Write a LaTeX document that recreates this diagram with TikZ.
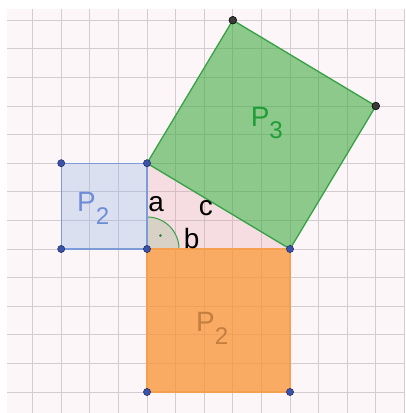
\documentclass[tikz,border=0pt]{standalone}
\usepackage{fontspec}
\setmainfont{Liberation Sans}
\definecolor{bgpink}{HTML}{FDF6F8}
\definecolor{gridc}{HTML}{D3CDD1}
\definecolor{bluefill}{HTML}{8FB0E4}
\definecolor{blueedge}{HTML}{7B9BD9}
\definecolor{bluetext}{HTML}{6E8DD6}
\definecolor{greenfill}{HTML}{41AB42}
\definecolor{greenedge}{HTML}{37A146}
\definecolor{greentext}{HTML}{1F9E38}
\definecolor{orangefill}{HTML}{F89333}
\definecolor{orangeedge}{HTML}{F5A04E}
\definecolor{orangetext}{HTML}{C47F3E}
\definecolor{trifillc}{HTML}{E196A0}
\definecolor{sectorc}{HTML}{D8D1C6}
\definecolor{ptblue}{HTML}{3A52A8}
\definecolor{ptblueedge}{HTML}{1C2A62}
\definecolor{ptdark}{HTML}{3A3A3A}
\begin{document}
\begin{tikzpicture}[x=1cm,y=1cm,
  gridline/.style={draw=gridc,line width=0.9pt},
  bluesq/.style={fill=bluefill,fill opacity=0.3,draw=blueedge,draw opacity=1,line width=1.3pt,line join=round},
  orangesq/.style={fill=orangefill,fill opacity=0.75,draw=orangeedge,draw opacity=1,line width=1.3pt,line join=round},
  greensq/.style={fill=greenfill,fill opacity=0.6,draw=greenedge,draw opacity=1,line width=1.3pt,line join=round},
  trifill/.style={fill=trifillc,fill opacity=0.25},
  ptb/.style={circle,fill=ptblue,draw=ptblueedge,line width=0.5pt,inner sep=0pt,minimum size=0.25cm},
  ptd/.style={circle,fill=ptdark,draw=black,line width=0.5pt,inner sep=0pt,minimum size=0.27cm},
  biglabel/.style={inner sep=0pt,font=\fontsize{27.8}{30}\selectfont},
  sublabel/.style={font=\fontsize{24}{26}\selectfont}
]
\useasboundingbox (-5.140,-5.734) rectangle (9.021,8.706);
\fill[white] (-5.140,-5.734) rectangle (9.021,8.706);
\fill[bgpink] (-4.895,-5.734) rectangle (9.021,8.392);
\foreach \x in {-4,...,9} \draw[gridline] (\x,-5.734) -- (\x,8.392);
\foreach \y in {-5,...,8} \draw[gridline] (-4.895,\y) -- (9.021,\y);

\coordinate (A) at (0,0);
\coordinate (B) at (0,3);
\coordinate (C) at (5,0);
\coordinate (Q1) at (-3,0);
\coordinate (Q2) at (-3,3);
\coordinate (O1) at (5,-5);
\coordinate (O2) at (0,-5);
\coordinate (G1) at (8,5);
\coordinate (G2) at (3,8);

\fill[trifill] (A) -- (C) -- (B) -- cycle;
\filldraw[bluesq] (Q1) -- (A) -- (B) -- (Q2) -- cycle;
\filldraw[greensq] (B) -- (C) -- (G1) -- (G2) -- cycle;
\filldraw[orangesq] (A) -- (C) -- (O1) -- (O2) -- cycle;

\fill[sectorc] (A) -- (1.12,0) arc (0:90:1.12) -- cycle;
\draw[greenedge,line width=1pt] (1.12,0) arc (0:90:1.12);
\fill[greenedge!80!black] (0.47,0.47) circle (0.05);
\draw[blueedge,line width=1.3pt] (A) -- (B);
\draw[orangeedge,line width=1.3pt] (A) -- (C);

\node[biglabel,anchor=base west,text=bluetext] (lblue) at (-2.448,1.304) {P\raisebox{-12.8pt}{\fontsize{24}{26}\selectfont 2}};
\node[biglabel,anchor=base west,text=greentext] (lgreen) at (3.62,4.27) {P\raisebox{-12pt}{\fontsize{24}{26}\selectfont 3}};
\node[biglabel,anchor=base west,text=orangetext] (lorange) at (1.71,-2.89) {P\raisebox{-12.8pt}{\fontsize{24}{26}\selectfont 2}};

\node[biglabel,anchor=base] (la) at (0.32,1.30) {a};
\node[biglabel,anchor=base] (lb) at (1.56,0.02) {b};
\node[biglabel,anchor=base] (lc) at (2.06,1.16) {c};

\foreach \p in {Q1,Q2,A,B,C,O1,O2} \node[ptb] (pt\p) at (\p) {};
\node[ptd] (ptG1) at (G1) {};
\node[ptd] (ptG2) at (G2) {};
\end{tikzpicture}
\end{document}
